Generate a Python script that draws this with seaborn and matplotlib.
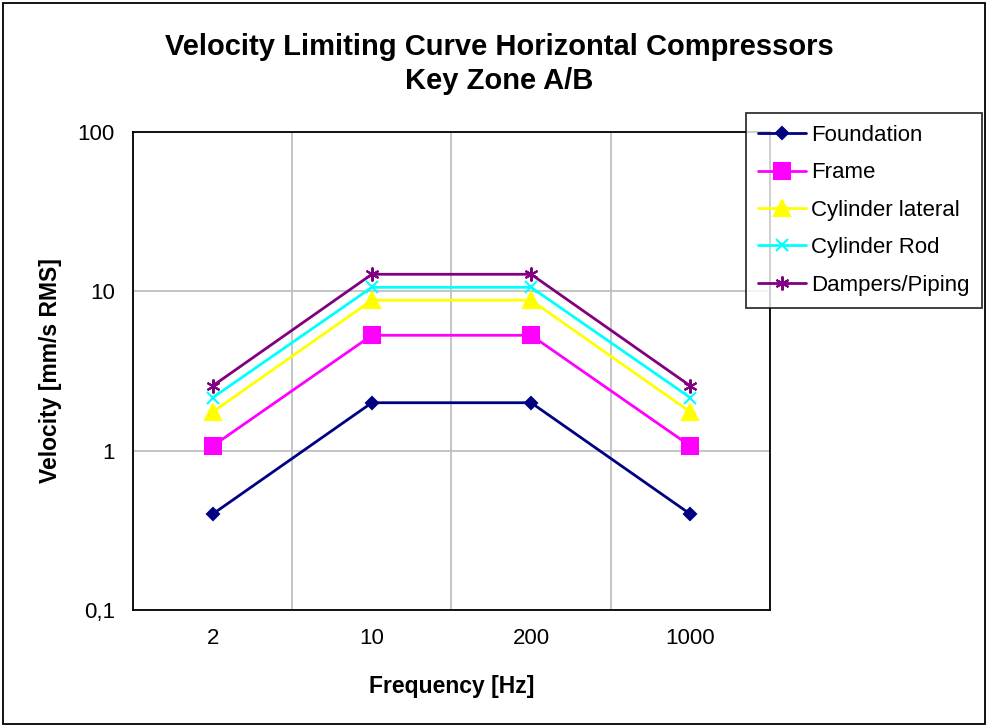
import pandas as pd
import matplotlib
matplotlib.use("Agg")
import matplotlib.pyplot as plt
from matplotlib.patches import Rectangle
import seaborn as sns

# Data
frequencies = ["2", "10", "200", "1000"]
foundation = [0.40, 2.0, 2.0, 0.40]
frame = [1.07, 5.3, 5.3, 1.07]
cylinder_lateral = [1.75, 8.8, 8.8, 1.75]
cylinder_rod = [2.15, 10.6, 10.6, 2.15]
dampers_piping = [2.55, 12.8, 12.8, 2.55]

series_names = ["Foundation", "Frame", "Cylinder lateral", "Cylinder Rod", "Dampers/Piping"]
series_values = [foundation, frame, cylinder_lateral, cylinder_rod, dampers_piping]
y_ticks = [0.1, 1, 10, 100]
y_tick_labels = ["0,1", "1", "10", "100"]

colors = ["#000080", "#FF00FF", "#FFFF00", "#00FFFF", "#800080"]
markers = ["D", "s", "^", "x", (6, 2, 0)]
msizes = [6, 11, 11, 9, 10]

sns.set_style("white")
plt.rcParams["font.family"] = ["Liberation Sans", "DejaVu Sans"]
plt.rcParams["text.color"] = "black"
plt.rcParams["axes.labelcolor"] = "black"
plt.rcParams["xtick.color"] = "black"
plt.rcParams["ytick.color"] = "black"

rows = []
for name, vals in zip(series_names, series_values):
    for i, v in enumerate(vals):
        rows.append({"series": name, "pos": i, "value": v})
df = pd.DataFrame(rows)

fig = plt.figure(figsize=(9.89, 7.27), dpi=100)
ax = fig.add_axes([0.1345, 0.1609, 0.644, 0.6575])

for name, c, m, ms in zip(series_names, colors, markers, msizes):
    sub = df[df["series"] == name]
    sns.lineplot(data=sub, x="pos", y="value", ax=ax, color=c, marker=m,
                 markersize=ms, markeredgecolor=c, markeredgewidth=1.5,
                 linewidth=2, label=name, sort=False, estimator=None)

ax.set_yscale("log")
ax.set_ylim(0.1, 100)
ax.set_yticks(y_ticks)
ax.set_yticklabels(y_tick_labels)
ax.yaxis.set_minor_locator(matplotlib.ticker.NullLocator())
ax.set_xlim(-0.5, len(frequencies) - 0.5)
ax.set_xticks(range(len(frequencies)))
ax.set_xticklabels(frequencies)
ax.set_xticks([i - 0.5 for i in range(len(frequencies) + 1)], minor=True)

ax.tick_params(axis="x", which="major", length=0, pad=13, labelsize=16)
ax.tick_params(axis="x", which="minor", length=6, width=1.2, direction="out", color="black")
ax.tick_params(axis="y", which="major", length=6, width=1.2, direction="out", color="black",
               pad=7, labelsize=16)
ax.grid(False)
ax.grid(True, axis="x", which="minor", color="#c0c0c0", linewidth=1.3)
ax.grid(True, axis="y", which="major", color="#c0c0c0", linewidth=1.3)

for s in ax.spines.values():
    s.set_visible(True)
    s.set_color("black")
    s.set_linewidth(1.3)

ax.set_xlabel("Frequency [Hz]", fontsize=16.5, fontweight="bold", labelpad=19)
ax.set_ylabel("Velocity [mm/s RMS]", fontsize=16.5, fontweight="bold", labelpad=11)

fig.suptitle("Velocity Limiting Curve Horizontal Compressors\nKey Zone A/B",
             fontsize=21, fontweight="bold", x=0.505, y=0.955, linespacing=1.3)

ax.get_legend().remove()
handles, labels = ax.get_legend_handles_labels()
leg = fig.legend(handles, labels, loc="upper left", bbox_to_anchor=(0.754, 0.845),
                 fontsize=16, frameon=True, fancybox=False, edgecolor="black",
                 handlelength=2.15, handletextpad=0.25, labelspacing=0.74,
                 borderpad=0.55, borderaxespad=0)
leg.get_frame().set_linewidth(1.3)

fig.patches.append(Rectangle((0.003, 0.004), 0.993, 0.992, transform=fig.transFigure,
                             fill=False, edgecolor="black", linewidth=1.3))

fig.savefig("out.png", dpi=100)
